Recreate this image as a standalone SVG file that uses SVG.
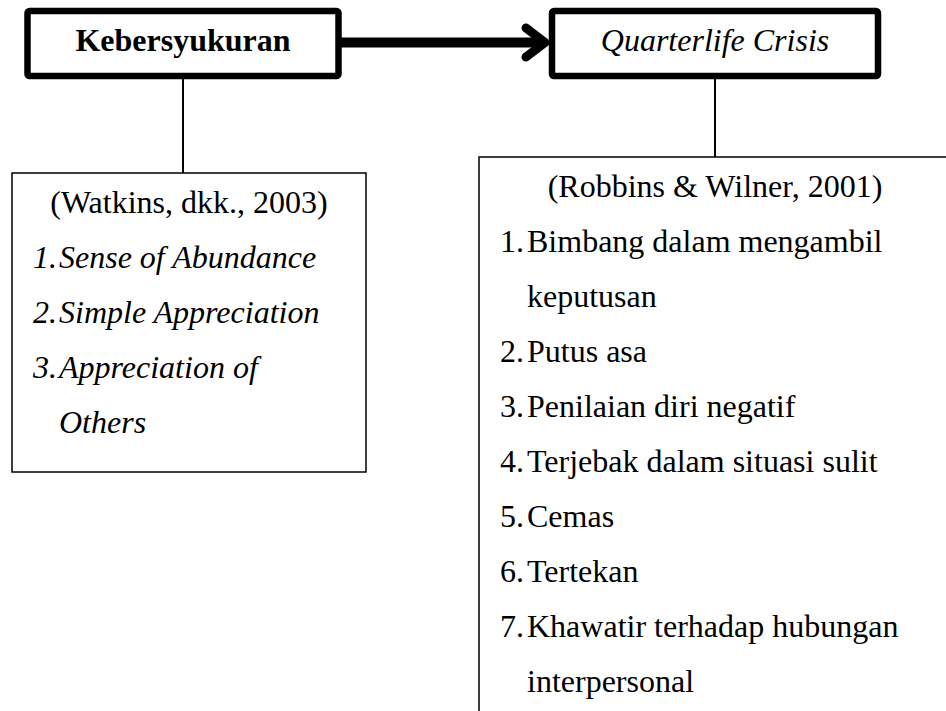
<svg xmlns="http://www.w3.org/2000/svg" width="946" height="711" viewBox="0 0 946 711">
  <style>
    .t { font-family: "Liberation Serif", "Times New Roman", serif; font-size: 32px; fill: #000; }
    .b { font-weight: bold; }
    .i { font-style: italic; }
    .mid { text-anchor: middle; }
    .main { fill: #fff; stroke: #000; stroke-width: 6.5; stroke-linejoin: round; }
    .box { fill: #fff; stroke: #000; stroke-width: 1.5; }
    .conn { stroke: #000; stroke-width: 2; fill: none; }
    .arrow { stroke: #000; fill: none; stroke-linecap: round; stroke-linejoin: round; }
  </style>
  <rect width="946" height="711" fill="#fff"/>

  <g id="connectors">
    <line class="conn" x1="183" y1="79" x2="183" y2="173"/>
    <line class="conn" x1="715" y1="79" x2="715" y2="157"/>
    <line class="arrow" x1="341" y1="42.5" x2="542" y2="42.5" stroke-width="10" style="stroke-linecap:butt"/>
    <path class="arrow" d="M 526 28 L 545 42.5 L 526 57" stroke-width="9"/>
  </g>

  <g id="node-kebersyukuran">
    <rect class="main" x="27.5" y="11" width="311" height="65" rx="2"/>
    <text class="t b mid" x="183" y="51">Kebersyukuran</text>
  </g>

  <g id="node-quarterlife">
    <rect class="main" x="552" y="11" width="326" height="65" rx="2"/>
    <text class="t i mid" x="715" y="51">Quarterlife Crisis</text>
  </g>

  <g id="node-watkins">
    <rect class="box" x="12" y="173" width="354" height="299"/>
    <text class="t mid" x="189" y="213">(Watkins, dkk., 2003)</text>
    <text class="t i" x="33" y="268">1.</text>
    <text class="t i" x="59" y="268">Sense of Abundance</text>
    <text class="t i" x="33" y="323">2.</text>
    <text class="t i" x="59" y="323">Simple Appreciation</text>
    <text class="t i" x="33" y="378">3.</text>
    <text class="t i" x="59" y="378">Appreciation of</text>
    <text class="t i" x="59" y="433">Others</text>
  </g>

  <g id="node-robbins">
    <rect class="box" x="479" y="157" width="480" height="570"/>
    <text class="t mid" x="715" y="197">(Robbins &amp; Wilner, 2001)</text>
    <text class="t" x="500" y="252">1.</text>
    <text class="t" x="527" y="252">Bimbang dalam mengambil</text>
    <text class="t" x="527" y="307">keputusan</text>
    <text class="t" x="500" y="362">2.</text>
    <text class="t" x="527" y="362">Putus asa</text>
    <text class="t" x="500" y="417">3.</text>
    <text class="t" x="527" y="417">Penilaian diri negatif</text>
    <text class="t" x="500" y="472">4.</text>
    <text class="t" x="527" y="472">Terjebak dalam situasi sulit</text>
    <text class="t" x="500" y="527">5.</text>
    <text class="t" x="527" y="527">Cemas</text>
    <text class="t" x="500" y="582">6.</text>
    <text class="t" x="527" y="582">Tertekan</text>
    <text class="t" x="500" y="637">7.</text>
    <text class="t" x="527" y="637">Khawatir terhadap hubungan</text>
    <text class="t" x="527" y="692">interpersonal</text>
  </g>
</svg>
